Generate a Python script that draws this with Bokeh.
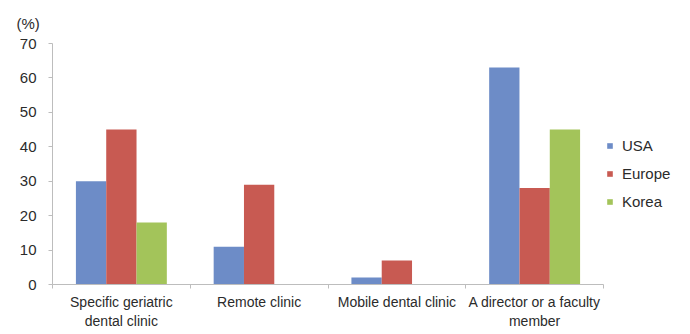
from bokeh.plotting import figure
from bokeh.models import (ColumnDataSource, FixedTicker, Legend, LegendItem,
                          Range1d, Title)
from bokeh.transform import dodge
from bokeh.embed import file_html
from bokeh.resources import INLINE

categories = ["Specific geriatric\ndental clinic", "Remote clinic",
              "Mobile dental clinic", "A director or a faculty\nmember"]
series = ["USA", "Europe", "Korea"]
usa = [30, 11, 2, 63]
europe = [45, 29, 7, 28]
korea = [18, 0, 0, 45]
colors = ["#6D8CC7", "#C85A52", "#A3C45A"]
y_ticks = [0, 10, 20, 30, 40, 50, 60, 70]

FONT = "Liberation Sans"
TXT = "#2b2b2b"
AX = "#bdbdbd"

centers = [i + 0.5 for i in range(len(categories))]
src = ColumnDataSource(dict(x=centers, USA=usa, Europe=europe, Korea=korea))

p = figure(frame_width=551, frame_height=241, output_backend="svg", toolbar_location=None,
           x_range=Range1d(0, len(categories)), y_range=Range1d(0, 70),
           min_border_left=52, min_border_right=87, min_border_top=43,
           min_border_bottom=50)
p.outline_line_color = None
p.xgrid.visible = False
p.ygrid.visible = False

bw = 0.22
renderers = []
for k, (name, col) in enumerate(zip(series, colors)):
    r = p.vbar(x=dodge("x", (k - 1) * bw, range=p.x_range), top=name, width=bw,
               source=src, fill_color=col, line_color=None)
    renderers.append(r)

xa = p.xaxis[0]
xa.ticker = FixedTicker(ticks=centers, minor_ticks=list(range(len(categories) + 1)))
xa.major_label_overrides = {c: lab for c, lab in zip(centers, categories)}
xa.major_tick_in = 0
xa.major_tick_out = 0
xa.minor_tick_in = 0
xa.minor_tick_out = 4
xa.minor_tick_line_color = AX
xa.axis_line_color = AX
xa.major_label_standoff = 5
xa.major_label_text_font = FONT
xa.major_label_text_font_size = "14px"
xa.major_label_text_color = TXT

ya = p.yaxis[0]
ya.ticker = FixedTicker(ticks=y_ticks)
ya.major_tick_in = 0
ya.major_tick_out = 4
ya.minor_tick_line_color = None
ya.major_tick_line_color = AX
ya.axis_line_color = AX
ya.major_label_standoff = 12
ya.major_label_text_font = FONT
ya.major_label_text_font_size = "15px"
ya.major_label_text_color = TXT

legend = Legend(items=[LegendItem(label=s, renderers=[r]) for s, r in zip(series, renderers)],
                location="top_left", glyph_width=7, glyph_height=7,
                label_standoff=9, label_height=20, spacing=8, padding=0, margin=3,
                border_line_color=None, background_fill_alpha=0,
                title=" ", title_text_font_size="15px", title_standoff=72,
                label_text_font=FONT, label_text_font_size="15px",
                label_text_color=TXT)
p.add_layout(legend, "right")

p.title = Title(text="(%)", align="left", offset=-36, standoff=24,
                text_font=FONT, text_font_size="15px", text_color=TXT,
                text_font_style="normal")

open("out.html", "w").write(file_html(p, INLINE))
